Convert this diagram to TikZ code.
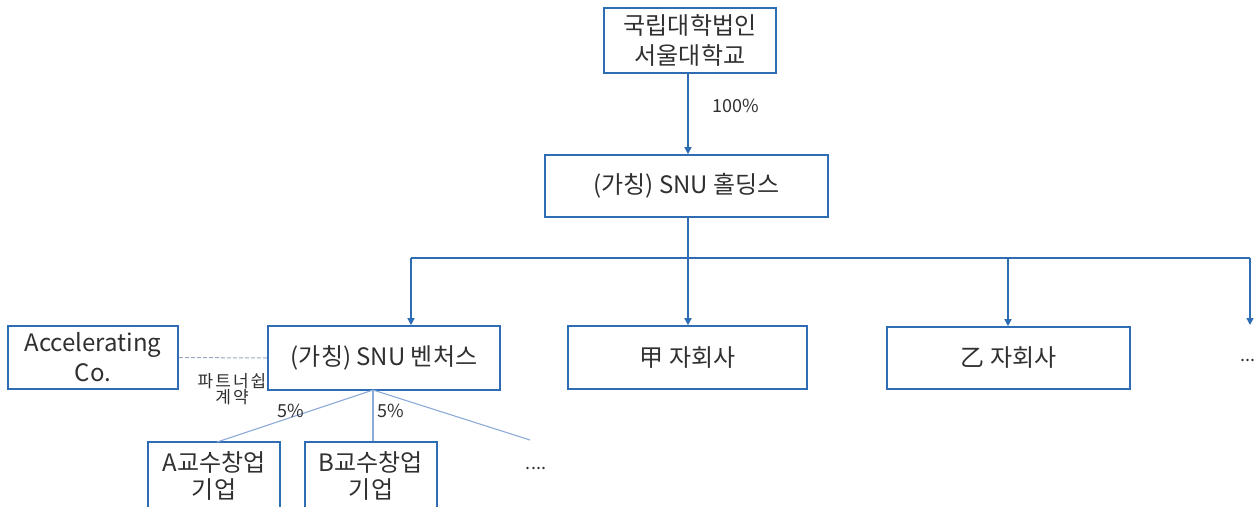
\documentclass[tikz,border=0pt]{standalone}
\usepackage{fontspec}
\setmainfont{Noto Sans CJK KR}
\newfontfamily\widekr[LetterSpace=12]{Noto Sans CJK KR}
\usetikzlibrary{arrows.meta}
\definecolor{boxblue}{HTML}{2E6DB4}
\definecolor{linkblue}{HTML}{8EAAD8}
\definecolor{dashgray}{HTML}{9AA8C0}
\definecolor{txt}{HTML}{303030}
\begin{document}
\begin{tikzpicture}[x=1pt,y=-1pt,
  orgbox/.style={draw=boxblue, line width=1.6pt, inner sep=0pt, text=txt, font=\fontsize{24}{30}\selectfont, align=center},
  conn/.style={draw=boxblue, line width=1.4pt, -{Triangle[length=7pt,width=7pt]}},
  thin/.style={draw=linkblue, line width=1.1pt},
  lbl/.style={text=txt, font=\fontsize{18}{20}\selectfont, inner sep=0pt},
  small/.style={text=txt, font=\widekr\fontsize{17}{16}\selectfont, inner sep=0pt, align=center}]
\useasboundingbox (0,0) rectangle (1258,506);
\node[orgbox, minimum width=172pt, minimum height=65pt] (snu) at (690,40.5) {국립대학법인\\서울대학교};
\node[orgbox, minimum width=283pt, minimum height=62pt] (hold) at (686.5,186) {(가칭) SNU 홀딩스};
\node[orgbox, minimum width=232pt, minimum height=64pt] (vent) at (384,358) {(가칭) SNU 벤처스};
\node[orgbox, minimum width=239pt, minimum height=63pt] (gap) at (687.5,357.5) {甲 자회사};
\node[orgbox, minimum width=243pt, minimum height=62pt] (eul) at (1008.5,358) {乙 자회사};
\node[orgbox, minimum width=170pt, minimum height=63pt] (acc) at (93,357.5) {Accelerating\\Co.};
\node[orgbox, minimum width=132pt, minimum height=68pt, font=\fontsize{24}{27}\selectfont] (pa) at (214,476) {A교수창업\\기업};
\node[orgbox, minimum width=132pt, minimum height=68pt, font=\fontsize{24}{27}\selectfont] (pb) at (371,476) {B교수창업\\기업};
\node[lbl] (more1) at (1248,360) {...};
\node[lbl] (more2) at (536,468) {....};
\coordinate (col) at (688,0);
\coordinate (bus) at (688,258);
\coordinate (busL) at (411,258);
\coordinate (busR) at (1250,258);
\coordinate (endR) at (1250,325);
\coordinate (vsrc) at (373,390);
\coordinate (vend) at (530,440);
\draw[conn] (snu.south -| col) -- node[lbl, right=24pt, pos=0.4] (p100) {100\%} (hold.north -| col);
\draw[boxblue, line width=1.4pt] (hold.south -| col) -- (bus);
\draw[boxblue, line width=1.4pt] (busL) -- (busR);
\draw[conn] (busL) -- (vent.north -| busL);
\draw[conn] (bus) -- (gap.north -| col);
\draw[conn] (1008,258) -- (eul.north -| 1008,0);
\draw[conn] (busR) -- (endR);
\draw[dashgray, line width=1pt, dash pattern=on 4pt off 2pt] (acc.east) -- (vent.west);
\node[small] (partner) at (232,389) {파트너쉽\\계약};
\draw[thin] (vsrc) -- (217,442);
\draw[thin] (vsrc) -- (vsrc |- pb.north);
\draw[thin] (vsrc) -- (vend);
\node[lbl] (p5a) at (291,411) {5\%};
\node[lbl] (p5b) at (391,411) {5\%};
\end{tikzpicture}
\end{document}
